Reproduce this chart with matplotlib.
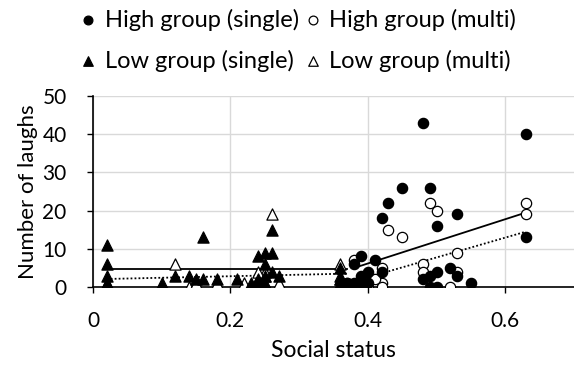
import matplotlib
matplotlib.use("Agg")
import matplotlib.pyplot as plt

plt.rcParams['font.family'] = ['Lato', 'DejaVu Sans']

# High group, single
hs_x = [0.48, 0.63, 0.45, 0.49, 0.43, 0.42, 0.53, 0.50, 0.63, 0.39, 0.38, 0.41, 0.40, 0.42,
        0.39, 0.38, 0.39, 0.40, 0.48, 0.49, 0.50, 0.50, 0.52, 0.53, 0.55, 0.49, 0.37]
hs_y = [43, 40, 26, 26, 22, 18, 19, 16, 13, 8, 6, 7, 4, 4, 3, 1, 1, 1, 2, 0, 0, 4, 5, 3, 1, 3, 1]
# High group, multi
hm_x = [0.63, 0.63, 0.49, 0.50, 0.43, 0.45, 0.53, 0.38, 0.48, 0.48, 0.42, 0.42, 0.38, 0.39,
        0.40, 0.42, 0.52, 0.53, 0.41, 0.37]
hm_y = [22, 19, 22, 20, 15, 13, 9, 7, 6, 4, 5, 1, 0, 0, 0, 0, 0, 4, 2, 1]
# Low group, single
ls_x = [0.02, 0.02, 0.02, 0.02, 0.02, 0.10, 0.12, 0.14, 0.15, 0.16, 0.16, 0.18, 0.21, 0.23,
        0.24, 0.24, 0.25, 0.25, 0.26, 0.25, 0.26, 0.26, 0.27, 0.24, 0.25, 0.36, 0.36, 0.36,
        0.36, 0.36]
ls_y = [11, 6, 3, 1, 0, 1, 3, 3, 2, 13, 2, 2, 2, 1, 0, 8, 9, 6, 9, 3, 15, 4, 3, 2, 1, 0, 1, 2, 3, 5]
# Low group, multi
lm_x = [0.02, 0.02, 0.10, 0.12, 0.14, 0.15, 0.18, 0.22, 0.24, 0.25, 0.25, 0.26, 0.27, 0.36,
        0.36, 0.36, 0.24]
lm_y = [0, 1, 0, 6, 0, 1, 1, 1, 2, 3, 4, 19, 1, 0, 2, 6, 4]

# trend lines (end points)
hs_fit_x, hs_fit_y = [0.38, 0.63], [5, 19.5]
hm_fit_x, hm_fit_y = [0.38, 0.63], [1.5, 14.5]
ls_fit_x, ls_fit_y = [0.02, 0.37], [4.8, 4.8]
lm_fit_x, lm_fit_y = [0.02, 0.37], [2.1, 3.5]

xticks = [0, 0.2, 0.4, 0.6]
xtick_labels = ["0", "0.2", "0.4", "0.6"]
yticks = [0, 10, 20, 30, 40, 50]

fig = plt.figure(figsize=(5.74, 3.67), dpi=100)
ax = fig.add_axes([0.162, 0.218, 0.838, 0.52])

ax.plot(ls_fit_x, ls_fit_y, color="black", lw=1.3, zorder=2)
ax.plot(lm_fit_x, lm_fit_y, color="black", lw=1.3, ls=(0, (1, 1.2)), zorder=2)
ax.plot(hs_fit_x, hs_fit_y, color="black", lw=1.3, zorder=2)
ax.plot(hm_fit_x, hm_fit_y, color="black", lw=1.3, ls=(0, (1, 1.2)), zorder=2)

ax.scatter(lm_x, lm_y, marker="^", s=65, facecolor="white", edgecolor="black", lw=0.9, zorder=3,
           label="Low group (multi)")
ax.scatter(ls_x, ls_y, marker="^", s=65, facecolor="black", edgecolor="black", lw=0.9, zorder=4,
           label="Low group (single)")
ax.scatter(hm_x, hm_y, marker="o", s=55, facecolor="white", edgecolor="black", lw=0.9, zorder=3,
           label="High group (multi)")
ax.scatter(hs_x, hs_y, marker="o", s=55, facecolor="black", edgecolor="black", lw=0.9, zorder=4,
           label="High group (single)")

ax.set_xlim(0, 0.7)
ax.set_ylim(0, 50)
ax.set_xticks(xticks)
ax.set_xticklabels(xtick_labels)
ax.set_yticks(yticks)
ax.tick_params(labelsize=15, length=4, width=1, direction="out")
ax.tick_params(axis="x", pad=13)
ax.tick_params(axis="y", pad=15)
ax.grid(True, color="#d9d9d9", lw=1)
ax.set_axisbelow(True)
for s in ["top", "right"]:
    ax.spines[s].set_visible(False)
for s in ["left", "bottom"]:
    ax.spines[s].set_linewidth(1.2)
ax.set_xlabel("Social status", fontsize=16.5, labelpad=7)
ax.set_ylabel("Number of laughs", fontsize=16, labelpad=3)

h, l = ax.get_legend_handles_labels()
order = [3, 1, 2, 0]
fig.legend([h[i] for i in order], [l[i] for i in order], ncol=2, loc="upper left",
           bbox_to_anchor=(0.141, 0.977), frameon=False, fontsize=17, handlelength=0.6,
           handletextpad=0.4, columnspacing=0.3, labelspacing=0.8, markerscale=0.85,
           borderpad=0, borderaxespad=0)

fig.savefig("out.png", dpi=100)
